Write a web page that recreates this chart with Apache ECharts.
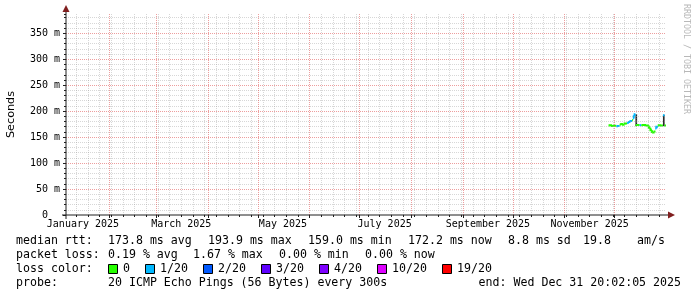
<!DOCTYPE html>
<html><head><meta charset="utf-8">
<script src="https://cdn.jsdelivr.net/npm/echarts@6/dist/echarts.min.js"></script>
<style>html,body{margin:0;padding:0;background:#fff}#c{width:697px;height:297px}</style>
</head><body><div id="c"></div>
<script>
// ---- data ----
const xStart = '2025-01-05 20:02:05';
const xEnd = '2025-12-31 20:02:05';
const yMax = 387;
const yMajorStep = 50;
const yMinorStep = 10;

const medianTimes = ['2025-11-28 00:00','2025-11-29 12:00','2025-11-30 12:00','2025-12-02 00:00','2025-12-03 00:00','2025-12-04 00:00','2025-12-05 00:00','2025-12-06 00:00','2025-12-07 00:00','2025-12-08 12:00','2025-12-09 12:00','2025-12-10 12:00','2025-12-11 12:00','2025-12-12 00:00','2025-12-12 12:00','2025-12-13 00:00','2025-12-13 12:00','2025-12-14 12:00','2025-12-16 00:00','2025-12-17 00:00','2025-12-18 00:00','2025-12-20 00:00','2025-12-21 12:00','2025-12-22 12:00','2025-12-23 12:00','2025-12-24 00:00','2025-12-25 00:00','2025-12-25 12:00','2025-12-26 00:00','2025-12-27 00:00','2025-12-27 12:00','2025-12-29 00:00','2025-12-30 00:00','2025-12-31 00:00','2025-12-31 20:00'];
const medianValues = [172,173,171.5,172,171,171.5,174,175,174,176,177,179,181,183,186,190,193.9,173,173.5,173,173,173.5,172.5,168,163,160,159,161,166,170,172,173,172.5,192,172.2];
const lossCounts = [0,0,0,0,1,1,0,0,0,0,1,1,1,0,1,1,1,0,0,1,0,0,0,0,0,0,0,0,1,1,0,0,0,1,0];

const smokeTimes = ['2025-12-14 12:00','2025-12-31 00:00'];
const smokeLow = [171,171];
const smokeHigh = [194,193];

const xLabelTimes = ['2025-01-16','2025-03-16','2025-05-16','2025-07-16','2025-09-16','2025-11-16'];
const xLabelTexts = ['January 2025','March 2025','May 2025','July 2025','September 2025','November 2025'];

const lossLevels = [0,1,2,3,4,10,19];
const lossLabels = ['0','1/20','2/20','3/20','4/20','10/20','19/20'];
const lossColors = ['#26ff00','#00b8ff','#0059ff','#5e00ff','#7e00ff','#dd00ff','#ff0000'];

const rttLine = ['median rtt:','173.8 ms avg','193.9 ms max','159.0 ms min','172.2 ms now','8.8 ms sd','19.8','am/s'];
const lossLine = ['packet loss:','0.19 % avg','1.67 % max','0.00 % min','0.00 % now'];
const probeText = '20 ICMP Echo Pings (56 Bytes) every 300s';
const endText = 'end: Wed Dec 31 20:02:05 2025';

// ---- helpers ----
const BASE = Date.UTC(2025,0,1);
function toDay(s){
  const [d,t='00:00:00'] = s.split(' ');
  const [Y,M,D] = d.split('-').map(Number);
  const [h,mi,se=0] = t.split(':').map(Number);
  return (Date.UTC(Y,M-1,D,h,mi,se)-BASE)/864e5;
}
function bucket(l){ for(let i=0;i<lossLevels.length;i++){ if(l<=lossLevels[i]) return i;} return lossLevels.length-1; }

const X_MIN = toDay(xStart), X_MAX = toDay(xEnd);
const monthDays = []; for(let m=0;m<12;m++){ const d=(Date.UTC(2025,m,1)-BASE)/864e5; if(d>X_MIN && d<X_MAX) monthDays.push(d); }
const weekDays = []; for(let d=4; d<X_MAX; d+=7){ if(d>X_MIN) weekDays.push(d); }
const weekGridDays = weekDays.filter(d=>monthDays.indexOf(d)<0);
const yMinorValues = []; for(let v=yMinorStep; v<yMax; v+=yMinorStep){ if(v % yMajorStep !== 0) yMinorValues.push(v); }
const labelDays = xLabelTimes.map(toDay);

const lineData = medianTimes.map((s,i)=>{
  const t = toDay(s), b = bucket(lossCounts[i]);
  const pt = i>0 ? toDay(medianTimes[i-1]) : t-0.5;
  const pv = i>0 ? medianValues[i-1] : medianValues[i];
  const pb = i>0 ? bucket(lossCounts[i-1]) : b;
  return [t, medianValues[i], b, pt, pv, pb];
});
const smokeData = smokeTimes.map((s,i)=>[toDay(s), smokeLow[i], smokeHigh[i]]);

const MONO = "'DejaVu Sans Mono', monospace";
const GRID = {left:66, top:14, width:600, height:201};
const AXIS_COLOR = '#1f1f1f', ARROW_COLOR = '#801f1f';
const MINOR_COLOR = 'rgba(150,150,150,0.38)', MAJOR_COLOR = 'rgba(222,79,79,0.55)';

// ---- graphics (decoration / legend) ----
const g = [];
const x0 = GRID.left, yb = GRID.top + GRID.height, xr = GRID.left + GRID.width;
g.push({type:'line', z:100, shape:{x1:x0-4, y1:yb, x2:xr+3, y2:yb}, style:{stroke:AXIS_COLOR, lineWidth:1}});
g.push({type:'line', z:100, shape:{x1:x0, y1:yb+4, x2:x0, y2:GRID.top-3}, style:{stroke:AXIS_COLOR, lineWidth:1}});
g.push({type:'polygon', z:101, shape:{points:[[xr+2,yb-3.5],[xr+9,yb],[xr+2,yb+3.5]]}, style:{fill:ARROW_COLOR}});
g.push({type:'polygon', z:101, shape:{points:[[x0-3.5,GRID.top-2],[x0,GRID.top-9],[x0+3.5,GRID.top-2]]}, style:{fill:ARROW_COLOR}});
g.push({type:'text', z:100, x:11, y:GRID.top+GRID.height/2, rotation:Math.PI/2,
  style:{text:'Seconds', font:"11.2px 'DejaVu Sans', sans-serif", fill:'#000', align:'center', verticalAlign:'middle'}});
g.push({type:'text', z:100, x:686, y:59, rotation:-Math.PI/2,
  style:{text:'RRDTOOL / TOBI OETIKER', font:"8.3px "+MONO, fill:'#b8b8b8', align:'center', verticalAlign:'middle'}});

const LF = "11.6px " + MONO;
function txt(x,y,s,align){ g.push({type:'text', z:100, x:x, y:y, style:{text:s, font:LF, fill:'#000', align:align||'left', verticalAlign:'middle'}}); }
const rttX = [16,108,208,308,408,508,583,637];
rttLine.forEach((s,i)=>txt(rttX[i],241,s));
const lossX = [16,108,193,279,365];
lossLine.forEach((s,i)=>txt(lossX[i],255,s));
txt(16,269,'loss color:');
let bx = 108;
lossLabels.forEach((s,i)=>{
  g.push({type:'rect', z:100, shape:{x:bx+0.5, y:264.5, width:9, height:9}, style:{fill:lossColors[i], stroke:'#000', lineWidth:1}});
  txt(bx+15,269,s);
  bx = bx + 15 + 7*s.length + 15;
});
txt(16,283,'probe:');
txt(108,283,probeText);
txt(681,283,endText,'right');

// ---- chart ----
const chart = echarts.init(document.getElementById('c'), null, {renderer:'canvas'});
const labelFont = {fontFamily:MONO, fontSize:10, color:'#000'};
const gridLineSeries = (name, marks, color) => ({
  type:'line', name:name, xAxisIndex:0, yAxisIndex:0, data:[[X_MIN,0]], showSymbol:false, symbol:'none',
  lineStyle:{width:0, opacity:0}, silent:true, z:1,
  markLine:{silent:true, symbol:['none','none'], label:{show:false}, animation:false,
    lineStyle:{color:color, type:[1,1], width:1}, emphasis:{disabled:true}, data:marks}
});
chart.setOption({
  animation:false,
  backgroundColor:'#fff',
  grid:Object.assign({containLabel:false, outerBoundsMode:'none'}, GRID),
  xAxis:[
    {type:'value', min:X_MIN, max:X_MAX, position:'bottom',
     axisLine:{show:false}, splitLine:{show:false},
     axisTick:{show:true, customValues:weekDays, length:2, lineStyle:{color:AXIS_COLOR}},
     axisLabel:Object.assign({show:true, customValues:labelDays, margin:4, hideOverlap:false,
       formatter:(v)=>{ let bi=0, bd=1e9; labelDays.forEach((d,i)=>{const dd=Math.abs(d-v); if(dd<bd){bd=dd;bi=i;}}); return xLabelTexts[bi]; }}, labelFont)},
    {type:'value', min:X_MIN, max:X_MAX, position:'bottom',
     axisLine:{show:false}, splitLine:{show:false}, axisLabel:{show:false},
     axisTick:{show:true, customValues:monthDays, length:3, lineStyle:{color:AXIS_COLOR}}}
  ],
  yAxis:[
    {type:'value', min:0, max:yMax, interval:yMinorStep, position:'left',
     axisLine:{show:false}, axisLabel:{show:false}, splitLine:{show:false},
     axisTick:{show:true, length:2, lineStyle:{color:AXIS_COLOR}}},
    {type:'value', min:0, max:yMax, interval:yMajorStep, position:'left',
     axisLine:{show:false},
     axisTick:{show:true, length:3, lineStyle:{color:AXIS_COLOR}},
     axisLabel:Object.assign({margin:6, showMaxLabel:false, showMinLabel:true,
       formatter:(v)=> (v % yMajorStep !== 0) ? '' : (v===0 ? '0  ' : v+' m')}, labelFont),
     splitLine:{show:true, showMinLine:false, showMaxLine:false, lineStyle:{color:MAJOR_COLOR, type:[1,1], width:1}}}
  ],
  series:[
    gridLineSeries('minorGrid', weekGridDays.map(d=>({xAxis:d})).concat(yMinorValues.map(v=>({yAxis:v}))), MINOR_COLOR),
    gridLineSeries('monthGrid', monthDays.map(d=>({xAxis:d})), MAJOR_COLOR),
    {type:'custom', name:'smoke', xAxisIndex:0, yAxisIndex:0, data:smokeData, encode:{x:0, y:[1,2]}, silent:true, z:3,
     renderItem:(p,api)=>{
       const a = api.coord([api.value(0)-1, api.value(2)]);
       const b = api.coord([api.value(0), api.value(1)]);
       return {type:'rect', shape:{x:a[0], y:a[1], width:b[0]-a[0], height:b[1]-a[1]}, style:{fill:'#2a2a2a'}};
     }},
    {type:'custom', name:'median', xAxisIndex:0, yAxisIndex:0, data:lineData, encode:{x:0, y:1}, silent:true, z:4,
     renderItem:(p,api)=>{
       const t=api.value(0), v=api.value(1), b=api.value(2), pt=api.value(3), pv=api.value(4), pb=api.value(5);
       const pts=[];
       if(pb===b) pts.push(api.coord([pt,pv]));
       pts.push(api.coord([pt,v]), api.coord([t,v]));
       return {type:'polyline', shape:{points:pts}, style:{stroke:lossColors[b], lineWidth:2, fill:null}};
     }}
  ],
  graphic:{elements:g}
});
</script>
</body></html>
